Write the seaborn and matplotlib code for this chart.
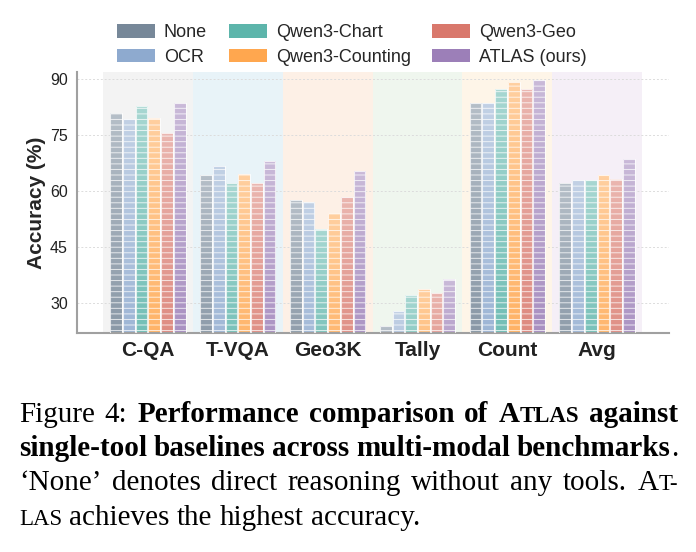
import numpy as np
import pandas as pd
import matplotlib.pyplot as plt
import matplotlib.transforms as mtransforms
from matplotlib.colors import to_rgb
from matplotlib.patches import Patch
import seaborn as sns

# Data
benchmarks = ["C-QA", "T-VQA", "Geo3K", "Tally", "Count", "Avg"]
methods = ["None", "OCR", "Qwen3-Chart", "Qwen3-Counting", "Qwen3-Geo", "ATLAS (ours)"]
none_acc = [81.0, 64.3, 57.6, 23.8, 83.8, 62.1]
ocr_acc = [79.3, 66.7, 57.1, 27.8, 83.6, 63.0]
chart_acc = [82.8, 62.1, 49.9, 32.3, 87.5, 63.0]
counting_acc = [79.7, 64.6, 54.1, 33.9, 89.2, 64.3]
geo_acc = [75.6, 62.1, 58.4, 32.8, 87.5, 63.3]
atlas_acc = [83.8, 68.0, 65.4, 36.4, 89.8, 68.7]

method_colors = ["#778899", "#8eaacf", "#5db5ab", "#ffa74f", "#d9786c", "#9c7fb8"]
span_colors = ["#f3f3f3", "#e8f3f8", "#fdf0e6", "#eff6ee", "#fef5e8", "#f5eff7"]


def main():
    rows = []
    for m, vals in zip(methods, [none_acc, ocr_acc, chart_acc, counting_acc, geo_acc, atlas_acc]):
        for b, v in zip(benchmarks, vals):
            rows.append({"benchmark": b, "method": m, "acc": v})
    df = pd.DataFrame(rows)

    sns.set_style("white")
    plt.rcParams["font.family"] = ["Liberation Sans", "DejaVu Sans"]
    plt.rcParams["hatch.linewidth"] = 0.7

    fig = plt.figure(figsize=(6.96, 5.52), dpi=100)
    ax = fig.add_axes([77 / 696, 1 - 333 / 552, 592 / 696, 261 / 552])

    sns.barplot(data=df, x="benchmark", y="acc", hue="method", order=benchmarks,
                hue_order=methods, palette=method_colors, saturation=1,
                width=0.85, gap=0.08, edgecolor=(1, 1, 1, 0.75), linewidth=0.8,
                legend=False, ax=ax)
    bars = list(ax.patches)
    ylo, yhi = 22, 92

    # gradient fill: darker at the base (value 0), lighter at the top of each bar
    for bar in bars:
        h = bar.get_height()
        if h <= ylo:
            continue
        base = np.array(to_rgb(bar.get_facecolor()))
        t = np.linspace(ylo / h, 1, 256)
        mix = (0.02 + 0.44 * t)[:, None]
        img = (base[None, :] * (1 - mix) + mix)[:, None, :]
        x0 = bar.get_x()
        im = ax.imshow(img, extent=(x0, x0 + bar.get_width(), ylo, h), origin="lower",
                       aspect="auto", interpolation="bilinear", zorder=2)
        im.set_clip_path(bar)
        bar.set_facecolor("none")
        bar.set_hatch("---")
        bar.set_zorder(3)

    # per-benchmark background bands
    for i, c in enumerate(span_colors):
        ax.axvspan(i - 0.5, i + 0.5, color=c, zorder=0.1, lw=0)

    ax.set_xlim(-0.79, 5.80)
    ax.set_ylim(ylo, yhi)
    ax.set_yticks([30, 45, 60, 75, 90])
    ax.set_axisbelow(True)
    ax.yaxis.grid(True, linestyle=(0, (2, 2)), color="#dcdcdc", linewidth=0.7)
    ax.xaxis.grid(False)
    for s in ["top", "right"]:
        ax.spines[s].set_visible(False)
    for s in ["left", "bottom"]:
        ax.spines[s].set_color("#a0a0a0")
        ax.spines[s].set_linewidth(1.5)
    ax.tick_params(axis="both", colors="#888888", length=3, width=1, labelcolor="#222222")
    ax.tick_params(axis="y", labelsize=11.5)
    ax.tick_params(axis="x", labelsize=15, pad=3)
    for lab in ax.get_xticklabels():
        lab.set_fontweight("bold")
    ax.set_xlabel("")
    ax.set_ylabel("Accuracy (%)", fontsize=15, fontweight="bold", labelpad=3)

    handles = [Patch(facecolor=c, edgecolor="none", label=m) for m, c in zip(methods, method_colors)]
    fig.legend(handles=handles, ncol=3, loc="center", bbox_to_anchor=(352 / 696, 1 - 45 / 552),
               frameon=False, fontsize=13, handlelength=2.1, handleheight=0.75,
               handletextpad=0.5, columnspacing=1.2, labelspacing=0.4)

    # Caption (justified, with small caps for ATLAS)
    px = mtransforms.IdentityTransform()
    renderer = fig.canvas.get_renderer()
    full, small = 21, 16.5
    serif = ["Liberation Serif", "DejaVu Serif"]
    B, N = "bold", "normal"

    def w(*segs):
        return list(segs)

    lines = [
        [w(("Figure", N, full)), w(("4:", N, full)), w(("Performance", B, full)),
         w(("comparison", B, full)), w(("of", B, full)),
         w(("A", B, full), ("TLAS", B, small)), w(("against", B, full))],
        [w(("single-tool", B, full)), w(("baselines", B, full)), w(("across", B, full)),
         w(("multi-modal", B, full)), w(("benchmarks", B, full), (".", N, full))],
        [w(("\u2018None\u2019", N, full)), w(("denotes", N, full)), w(("direct", N, full)),
         w(("reasoning", N, full)), w(("without", N, full)), w(("any", N, full)),
         w(("tools.", N, full)), w(("A", N, full), ("T-", N, small))],
        [w(("LAS", N, small)), w(("achieves", N, full)), w(("the", N, full)),
         w(("highest", N, full)), w(("accuracy.", N, full))],
    ]
    baselines = [552 - 422, 552 - 456, 552 - 490.5, 552 - 525]
    x_left, x_right = 19, 678

    sp = fig.text(0, 0, "a a", fontsize=full, family=serif, transform=px)
    sp2 = fig.text(0, 0, "aa", fontsize=full, family=serif, transform=px)
    space_w = sp.get_window_extent(renderer).width - sp2.get_window_extent(renderer).width
    sp.remove()
    sp2.remove()

    for li, (words, yb) in enumerate(zip(lines, baselines)):
        word_texts = []
        widths = []
        for word in words:
            texts, ww = [], 0
            for s, weight, size in word:
                tx = fig.text(0, yb, s, fontsize=size, fontweight=weight, family=serif,
                              transform=px, va="baseline", ha="left", color="black")
                texts.append(tx)
                ww += tx.get_window_extent(renderer).width
            word_texts.append(texts)
            widths.append(ww)
        if li < len(lines) - 1:
            gap = (x_right - x_left - sum(widths)) / (len(words) - 1)
        else:
            gap = space_w
        x = x_left
        for texts in word_texts:
            for tx in texts:
                tx.set_position((x, yb))
                x += tx.get_window_extent(renderer).width
            x += gap

    fig.savefig("out.png", dpi=100)


if __name__ == "__main__":
    main()
